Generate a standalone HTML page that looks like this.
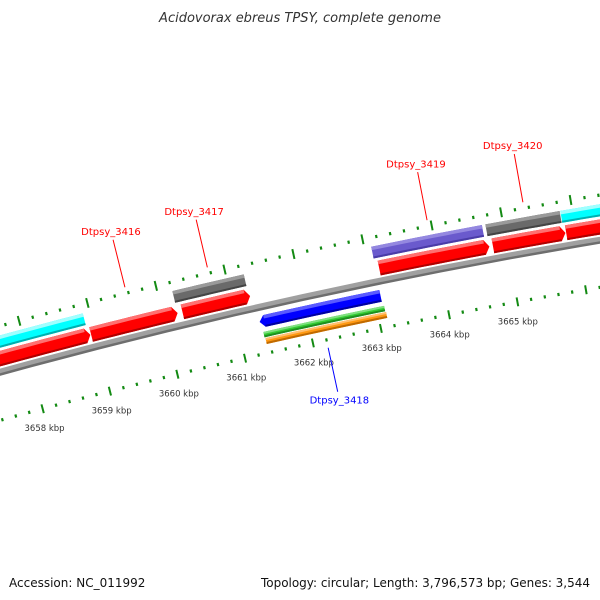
<!DOCTYPE html>
<html><head><meta charset="utf-8"><style>
body{margin:0;background:#fff;}
svg{display:block;font-family:"DejaVu Sans","Liberation Sans",sans-serif;}
</style></head><body>
<svg id="chart" width="600" height="600" viewBox="0 0 600 600" xmlns="http://www.w3.org/2000/svg">
<text x="300" y="22" text-anchor="middle" font-size="13" font-style="italic" fill="#333">Acidovorax ebreus TPSY, complete genome</text>
<g id="ticks"></g>
<g id="genes"></g>
<g id="labels"></g>
<text x="9" y="587" font-size="12" fill="#111">Accession: NC_011992</text>
<text x="590" y="587" text-anchor="end" font-size="12" textLength="329" fill="#111">Topology: circular; Length: 3,796,573 bp; Genes: 3,544</text>
</svg>
<script>
// data (kbp)
const geneNames = ["", "Dtpsy_3416", "Dtpsy_3417", "Dtpsy_3419", "Dtpsy_3420", "", "", "Dtpsy_3417g", "Dtpsy_3419g", "Dtpsy_3420g", "", "Dtpsy_3418", "Dtpsy_3418a", "Dtpsy_3418b"];
const geneStart = [3657.0, 3658.94, 3660.28, 3663.15, 3664.80, 3665.86, 3657.0, 3660.21, 3663.10, 3664.75, 3665.83, 3661.32, 3661.34, 3661.35];
const geneEnd   = [3658.93, 3660.21, 3661.27, 3664.75, 3665.85, 3667.5, 3658.90, 3661.25, 3664.70, 3665.82, 3667.5, 3663.09, 3663.11, 3663.12];
const geneTrack = ["cds", "cds", "cds", "cds", "cds", "cds", "up", "up", "up", "up", "up", "rev", "rev2", "rev3"];
const geneKind  = ["red", "red", "red", "red", "red", "red", "cyan", "gray", "purple", "gray", "cyan", "blue", "green", "orange"];
const tickLabels = [3658, 3659, 3660, 3661, 3662, 3663, 3664, 3665];
const labelNames = ["Dtpsy_3416", "Dtpsy_3417", "Dtpsy_3419", "Dtpsy_3420", "Dtpsy_3418"];
const labelPos = [3659.57, 3660.77, 3663.95, 3665.33, 3662.2];
const labelSide = ["out", "out", "out", "out", "in"];

const NS = "http://www.w3.org/2000/svg";
const cx = 1596, cy = 6199, phi0 = -0.2041, kRad = 0.0116;
function pt(p, r) { const f = phi0 + (p - 3663) * kRad; return [cx + r * Math.sin(f), cy - r * Math.cos(f)]; }
function mk(tag, attrs, parent) { const e = document.createElementNS(NS, tag); for (const k in attrs) e.setAttribute(k, attrs[k]); parent.appendChild(e); return e; }
const tracks = { cds: [6047, 6062], up: [6065, 6077], rev: [6021, 6033], rev2: [6011, 6016.5], rev3: [6004, 6010] };
const pal = { red: ["#ff0000", "#ff7070", "#b00000"], cyan: ["#00ffff", "#a0ffff", "#00b0b0"], gray: ["#6a6a6a", "#9a9a9a", "#444"], purple: ["#6a5acd", "#9488e0", "#4a3ca8"], blue: ["#0000ff", "#5a5aff", "#0000a0"], green: ["#33cc33", "#80e080", "#1f8f1f"], orange: ["#ff9912", "#ffc070", "#c06a00"] };

function band(p0, p1, r0, r1, arrow) {
  const n = 12, pts = [], ah = 0.07;
  let s0 = p0, s1 = p1;
  if (arrow === 1) s1 = p1 - ah;
  if (arrow === -1) s0 = p0 + ah;
  for (let i = 0; i <= n; i++) pts.push(pt(s0 + (s1 - s0) * i / n, r1));
  if (arrow === 1) pts.push(pt(p1, (r0 + r1) / 2));
  for (let i = n; i >= 0; i--) pts.push(pt(s0 + (s1 - s0) * i / n, r0));
  if (arrow === -1) pts.push(pt(p0, (r0 + r1) / 2));
  return pts.map(q => q[0].toFixed(2) + "," + q[1].toFixed(2)).join(" ");
}

const gG = document.getElementById("genes");
let bb = mk("polygon", { points: band(3656, 3668, 6040, 6045, 0), fill: "#a0a0a0" }, gG);


let bb2 = mk("polygon", { points: band(3656, 3668, 6038, 6040.5, 0), fill: "#6e6e6e" }, gG);



for (let i = 0; i < geneStart.length; i++) {
  const tr = tracks[geneTrack[i]], c = pal[geneKind[i]];
  const arrow = geneKind[i] === "red" ? 1 : (geneKind[i] === "blue" ? -1 : 0);
  const g = mk("g", {}, gG);
  
  
  mk("polygon", { points: band(geneStart[i], geneEnd[i], tr[0], tr[1], arrow), fill: c[0] }, g);
  const h = (tr[1] - tr[0]) > 8 ? 3.5 : 2;
  const a0 = arrow === -1 ? geneStart[i] + 0.07 : geneStart[i];
  const a1 = arrow === 1 ? geneEnd[i] - 0.07 : geneEnd[i];
  mk("polygon", { points: band(a0, a1, tr[1] - h, tr[1], 0), fill: c[1] }, g);
  mk("polygon", { points: band(a0, a1, tr[0], tr[0] + 2, 0), fill: c[2] }, g);
}

const gT = document.getElementById("ticks");
for (let j = 0; j <= 60; j++) {
  const p = 3657 + j * 0.2;
  const major = j % 5 === 0;
  [[6086, major ? 5 : 1.6], [5995, major ? 4.5 : 1.6]].forEach((rr, ring) => {
    const a = pt(p, rr[0] - rr[1]), b = pt(p, rr[0] + rr[1]);
    const l = mk("line", { x1: a[0], y1: a[1], x2: b[0], y2: b[1], stroke: "#138a13", "stroke-width": major ? 2 : 2.2 }, gT);
    
    
  });
}
tickLabels.forEach(v => {
  const q = pt(v, 5976);
  const t = mk("text", { x: q[0] - 3, y: q[1] + 4, "text-anchor": "middle", "font-size": "8.5", fill: "#333" }, gT);
  t.textContent = v + " kbp";
  
  
});

const gL = document.getElementById("labels");
labelNames.forEach((n, i) => {
  const out = labelSide[i] === "out";
  const col = out ? "#ff0000" : "#0000ff";
  const a = pt(labelPos[i], out ? 6092 : 5987), b = pt(labelPos[i], out ? 6141 : 5942);
  const ln = mk("line", { x1: a[0], y1: a[1], x2: b[0], y2: b[1], stroke: col, "stroke-width": 1 }, gL);
  
  
  const tq = pt(labelPos[i], out ? 6150 : 5934);
  const t = mk("text", { x: tq[0], y: tq[1] + 4, "text-anchor": "middle", "font-size": "10", fill: col }, gL);
  t.textContent = n;
  
  
});
</script>
</body></html>
